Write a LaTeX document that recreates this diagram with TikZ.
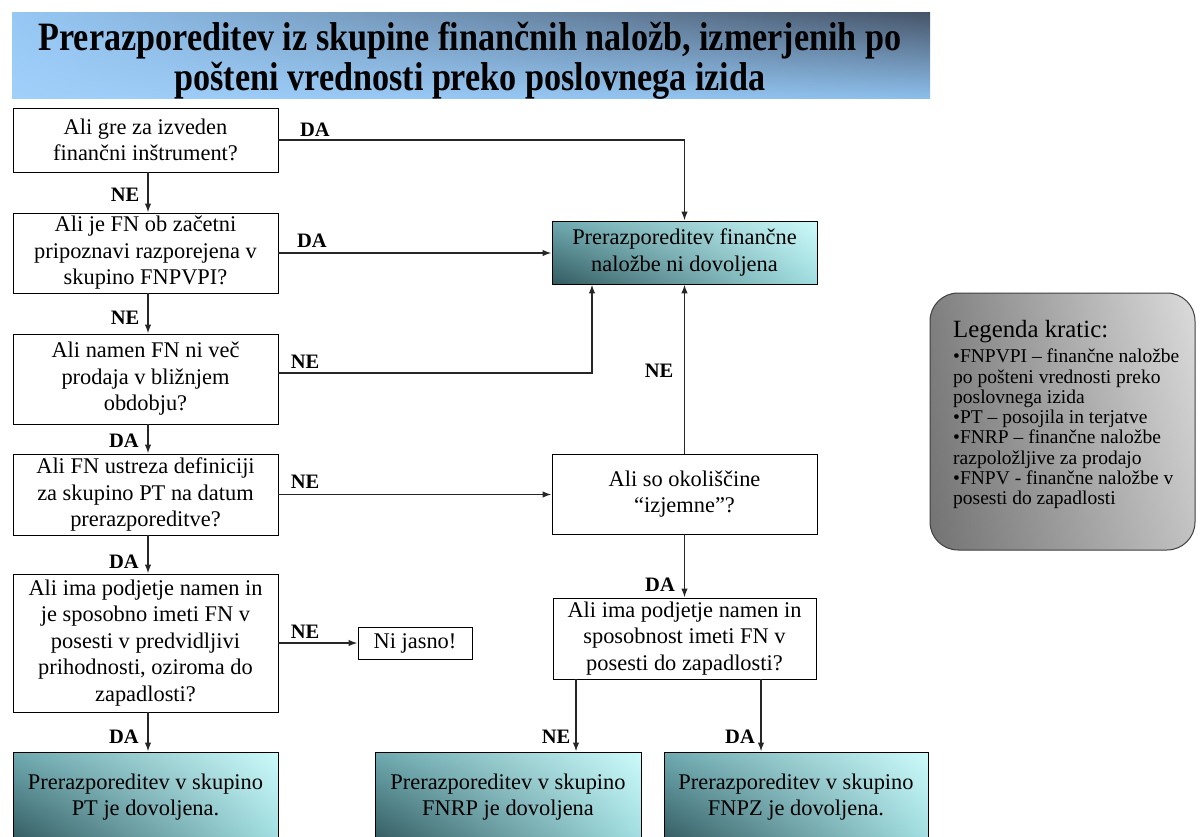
\documentclass[tikz,border=0pt]{standalone}
\usepackage{fontspec}
\setmainfont{Liberation Serif}
\usetikzlibrary{arrows.meta,shadings}
\definecolor{tealUL}{RGB}{110,170,176}
\definecolor{tealUR}{RGB}{205,250,250}
\definecolor{tealLL}{RGB}{50,90,96}
\definecolor{tealLR}{RGB}{160,222,225}
\definecolor{blueL}{RGB}{150,200,245}
\definecolor{blueR}{RGB}{70,84,104}
\definecolor{blueB}{RGB}{160,208,250}
\definecolor{blueBR}{RGB}{140,190,235}
\newcommand\bodyfont{\fontsize{22.4pt}{26.5pt}\selectfont}
\newcommand\lblfont{\fontsize{20.5pt}{22pt}\selectfont\bfseries}
\begin{document}
\begin{tikzpicture}[x=1pt,y=-1pt,
  box/.style={draw=black, line width=0.9pt, align=center, inner sep=0pt, font=\bodyfont},
  wbox/.style={box, fill=white},
  gbox/.style={box, upper left=tealUL, upper right=tealUR, lower left=tealLL, lower right=tealLR},
  arr/.style={-{Latex[length=9pt,width=6.5pt]}, line width=1.5pt, draw=black!85},
  lbl/.style={font=\lblfont, inner sep=0pt}]
\useasboundingbox (0,0) rectangle (1200,836);
\clip (0,0) rectangle (1200,836);
\fill[white] (0,0) rectangle (1200,836);

% title banner
\node[minimum width=918pt, minimum height=86pt, inner sep=0pt,
      upper left=blueL, upper right=blueR, lower left=blueB, lower right=blueBR] (title) at (471,55) {};
\node[align=center, inner sep=0pt, font=\fontsize{33pt}{30.4pt}\selectfont\bfseries] (titletext) at (470,62)
  {\scalebox{1.035}[1.22]{\begin{tabular}{@{}c@{}}Prerazporeditev iz skupine finančnih naložb, izmerjenih po\\pošteni vrednosti preko poslovnega izida\end{tabular}}};

% left column
\node[wbox, minimum width=265pt, minimum height=64pt] (q1) at (145.5,140)
  {Ali gre za izveden\\finančni inštrument?};
\node[wbox, minimum width=265pt, minimum height=80pt] (q2) at (145.5,253)
  {Ali je FN ob začetni\\pripoznavi razporejena v\\skupino FNPVPI?};
\node[wbox, minimum width=265pt, minimum height=90pt] (q3) at (145.5,379)
  {Ali namen FN ni več\\prodaja v bližnjem\\obdobju?};
\node[wbox, minimum width=265pt, minimum height=81pt] (q4) at (145.5,494.5)
  {Ali FN ustreza definiciji\\za skupino PT na datum\\prerazporeditve?};
\node[wbox, minimum width=265pt, minimum height=138pt] (q5) at (145.5,643)
  {Ali ima podjetje namen in\\je sposobno imeti FN v\\posesti v predvidljivi\\prihodnosti, oziroma do\\zapadlosti?};
\node[gbox, minimum width=265pt, minimum height=90pt] (r1) at (145.5,797)
  {Prerazporeditev v skupino\\PT je dovoljena.};

% right column
\node[gbox, minimum width=265pt, minimum height=63pt] (nd) at (684.5,252.5)
  {Prerazporeditev finančne\\naložbe ni dovoljena};
\node[wbox, minimum width=265pt, minimum height=80pt] (iz) at (684.5,494)
  {Ali so okoliščine\\“izjemne”?};
\node[wbox, minimum width=263pt, minimum height=81pt] (q6) at (684.5,638.5)
  {Ali ima podjetje namen in\\sposobnost imeti FN v\\posesti do zapadlosti?};
\node[wbox, minimum width=114pt, minimum height=32pt] (nj) at (415,643) {Ni jasno!};
\node[gbox, minimum width=266pt, minimum height=90pt] (r2) at (508,797)
  {Prerazporeditev v skupino\\FNRP je dovoljena};
\node[gbox, minimum width=264pt, minimum height=90pt] (r3) at (796,797)
  {Prerazporeditev v skupino\\FNPZ je dovoljena.};

% legend
\node[draw=black!75, line width=1pt, rounded corners=28pt, minimum width=265pt, minimum height=257pt,
      upper left=black!50, lower left=black!55, upper right=black!14, lower right=black!24] (leg) at (1062.5,421.5) {};
\node[anchor=north west, align=left, inner sep=0pt, font=\fontsize{19.5pt}{20.3pt}\selectfont] (legtext) at (953,320)
  {{\fontsize{24.8pt}{26pt}\selectfont Legenda kratic:}\\[5pt]
   •FNPVPI – finančne naložbe\\
   po pošteni vrednosti preko\\
   poslovnega izida\\
   •PT – posojila in terjatve\\
   •FNRP – finančne naložbe\\
   razpoložljive za prodajo\\
   •FNPV - finančne naložbe v\\
   posesti do zapadlosti};

% connectors
\draw[arr] (q1.east) -| (nd.north);
\draw[arr] (q2.east) -- (q2.east -| nd.west);
\draw[arr] ([yshift=6pt]q3.east) -| ([xshift=-92.5pt]nd.south);
\draw[arr] (q4.east) -- (q4.east -| iz.west);
\draw[arr] (iz.north) -- (nd.south);
\draw[arr] (iz.south) -- (q6.north);
\draw[arr] (q5.east) -- (q5.east -| nj.west);
\draw[arr] ([xshift=2.5pt]q1.south) -- ([xshift=2.5pt]q2.north);
\draw[arr] ([xshift=2.5pt]q2.south) -- ([xshift=2.5pt]q3.north);
\draw[arr] ([xshift=2.5pt]q3.south) -- ([xshift=2.5pt]q4.north);
\draw[arr] ([xshift=2.5pt]q4.south) -- ([xshift=2.5pt]q5.north);
\draw[arr] ([xshift=2.5pt]q5.south) -- ([xshift=2.5pt]r1.north);
\draw[arr] ([xshift=-108.5pt]q6.south) -- ([xshift=-108.5pt]q6.south |- r2.north);
\draw[arr] ([xshift=76.5pt]q6.south) -- ([xshift=76.5pt]q6.south |- r3.north);

% labels
\node[lbl] (l1) at (315,130) {DA};
\node[lbl] (l2) at (312,241) {DA};
\node[lbl] (l3) at (305,362) {NE};
\node[lbl] (l4) at (305,482) {NE};
\node[lbl] (l5) at (305,632) {NE};
\node[lbl] (l6) at (659,371) {NE};
\node[lbl] (l7) at (660,585) {DA};
\node[lbl] (l8) at (556,737) {NE};
\node[lbl] (l9) at (740,737) {DA};
\node[lbl] (l10) at (125,195) {NE};
\node[lbl] (l11) at (125,318) {NE};
\node[lbl] (l12) at (124,441) {DA};
\node[lbl] (l13) at (124,562) {DA};
\node[lbl] (l14) at (124,737) {DA};
\end{tikzpicture}
\end{document}
